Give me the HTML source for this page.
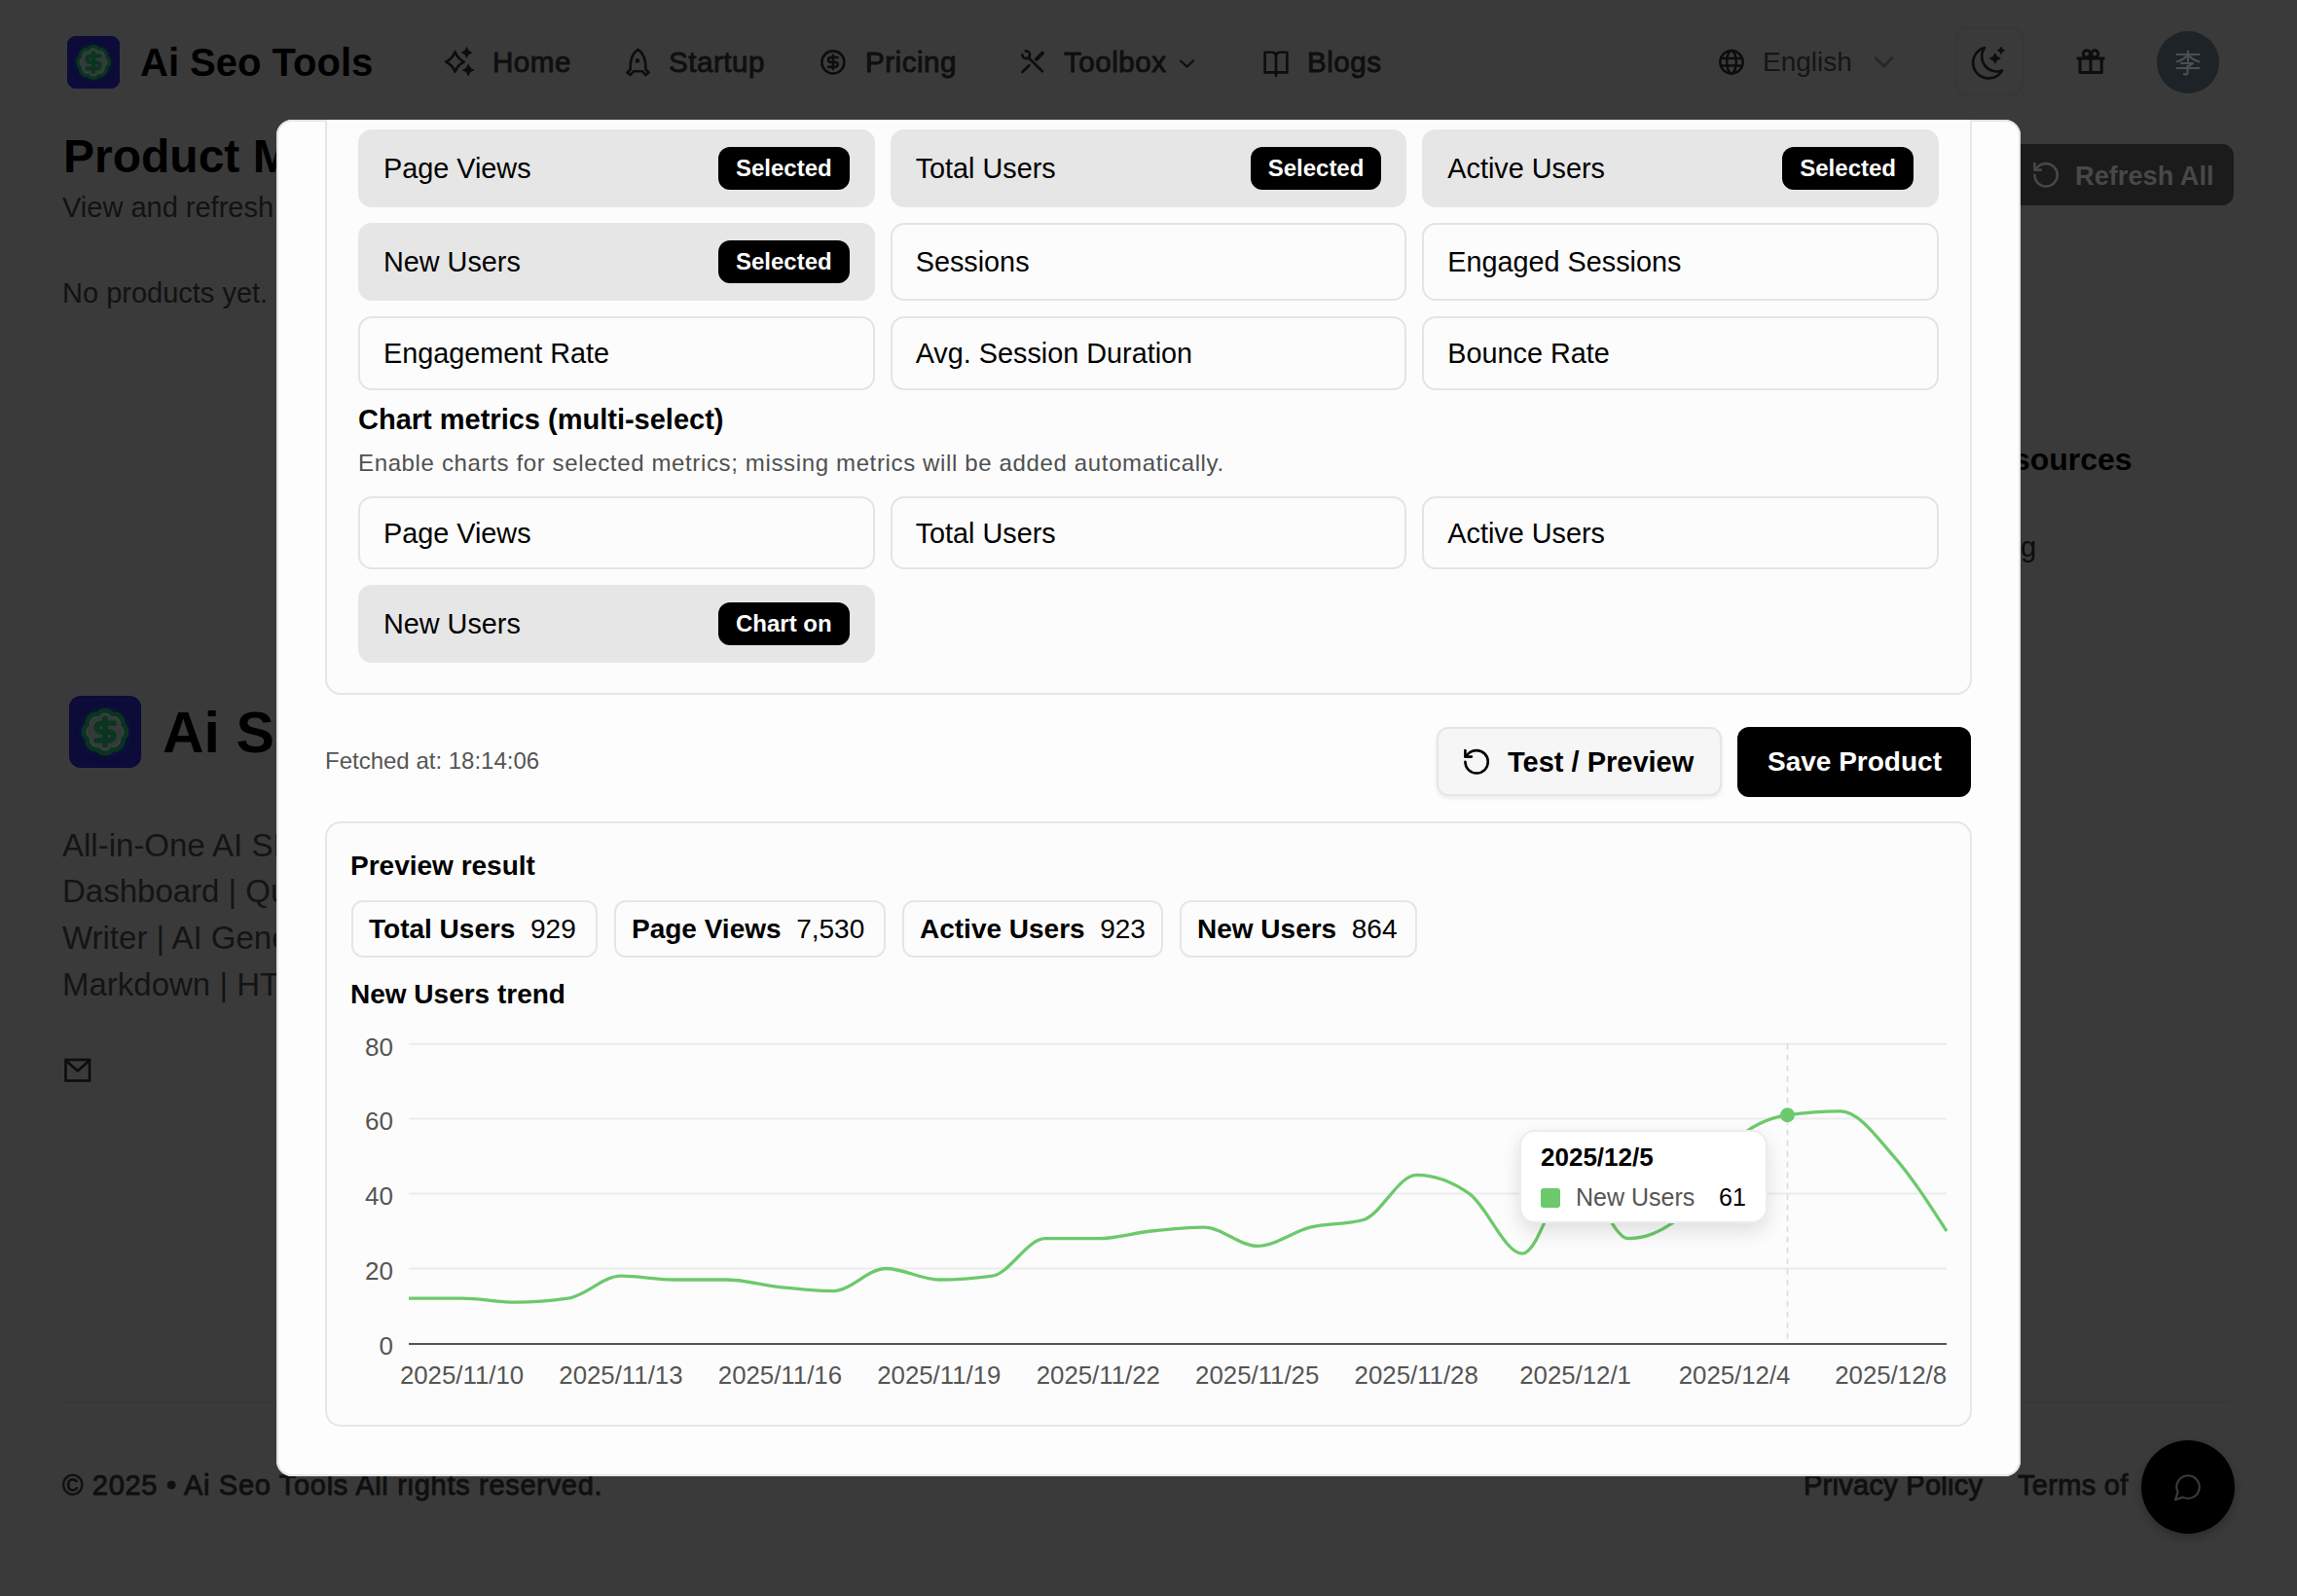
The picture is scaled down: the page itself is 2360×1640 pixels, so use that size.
<!DOCTYPE html>
<html><head><meta charset="utf-8">
<style>
*{box-sizing:border-box;margin:0;padding:0}
html,body{width:2360px;height:1640px;overflow:hidden}
body{background:#3a3a3a;font-family:"Liberation Sans",sans-serif;position:relative;color:#000}
.a{position:absolute;white-space:nowrap}
.nav{font-size:29.6px;color:#0f0f0f;line-height:1;font-weight:400;-webkit-text-stroke:0.9px #0f0f0f;letter-spacing:0.5px}
.ic{position:absolute}
/* modal */
#modal{position:absolute;left:284px;top:123px;width:1792px;height:1394px;background:#fdfdfd;border-radius:16px;overflow:hidden;box-shadow:inset 0 0 0 2px #e4e4e4}
.card{position:absolute;border:2px solid #e6e6e6;border-radius:16px;background:#fcfcfc}
.it{position:absolute;border:2px solid #e4e4e4;border-radius:14px;background:#fcfcfc;height:75px;width:531px}
.it.sel{background:#e6e6e6;border-color:#e6e6e6;height:80px}
.it .t{position:absolute;left:24px;top:50%;transform:translateY(-50%);font-size:28.8px;color:#000;line-height:1}
.badge{position:absolute;right:24px;top:16px;height:44px;background:#000;color:#fff;border-radius:12px;font-size:24px;font-weight:700;line-height:44px;padding:0 18px}
.chip{position:absolute;top:82px;height:59px;border:2px solid #e6e6e6;border-radius:12px;background:#fcfcfc;font-size:28px;line-height:55px;padding:0 16px;white-space:nowrap}
.chip b{font-weight:700}
.ylab{position:absolute;font-size:24px;color:#555;line-height:1;text-align:right;width:40px}
.xlab{position:absolute;font-size:24px;color:#555;line-height:1;white-space:nowrap}
.btn2{background:#f6f6f6;border:2px solid #e6e6e6;border-radius:12px;box-shadow:0 2px 4px rgba(0,0,0,0.08)}
.tip{background:#fff;border:2px solid #ececec;border-radius:16px;box-shadow:0 8px 20px rgba(0,0,0,0.12)}
@media (max-width:1300px){html{zoom:0.5}}
</style></head>
<body>
<!-- header -->
<div class="a" style="left:69px;top:37px;width:54px;height:54px;border-radius:9px;background:#0b0a33"></div>
<div class="a" style="left:144px;top:44px;font-size:40px;font-weight:700;line-height:40px">Ai Seo Tools</div>
<div class="a nav" style="left:506px;top:49px">Home</div>
<div class="a nav" style="left:687px;top:49px">Startup</div>
<div class="a nav" style="left:889px;top:49px">Pricing</div>
<div class="a nav" style="left:1093px;top:49px">Toolbox</div>
<div class="a nav" style="left:1343px;top:49px">Blogs</div>
<div class="a nav" style="left:1811px;top:50px;color:#151515;font-size:28px;-webkit-text-stroke:0;letter-spacing:0">English</div>
<div class="a" style="left:2009px;top:28px;width:70px;height:70px;border:2px solid #373737;border-radius:12px"></div><div class="a" style="left:2115px;top:28px;width:64px;height:70px;border:2px solid #393939;border-radius:12px"></div>
<div class="a" style="left:2216px;top:32px;width:64px;height:64px;border-radius:50%;background:#1d2326"></div>

<div class="a" style="left:65px;top:133px;font-size:48px;font-weight:700;line-height:56px">Product Management</div>
<div class="a" style="left:64px;top:197px;font-size:29px;line-height:32px;color:#121212">View and refresh product analytics</div>
<div class="a" style="left:64px;top:285px;font-size:29px;line-height:32px;color:#121212">No products yet.</div>
<div class="a" style="left:1900px;top:148px;width:395px;height:63px;border-radius:12px;background:#1b1b1b"></div>
<div class="a" style="left:2132px;top:165px;font-size:27.2px;font-weight:700;line-height:32px;color:#484848">Refresh All</div>
<div class="a" style="left:2027px;top:456px;font-size:32px;font-weight:700;line-height:32px">Resources</div>
<div class="a" style="left:2034px;top:548px;font-size:29px;line-height:29px;color:#0c0c0c">Blog</div>

<!-- footer -->
<div class="a" style="left:71px;top:715px;width:74px;height:74px;border-radius:12px;background:#0b0a33"></div>
<div class="a" style="left:167px;top:723px;font-size:59px;font-weight:700;line-height:60px">Ai Seo Tools</div>
<div class="a" style="left:64px;top:844.5px;font-size:33px;line-height:47.8px;color:#141414;white-space:normal;width:700px">All-in-One AI SEO Tools<br>Dashboard | Quick Writer<br>Writer | AI Generator<br>Markdown | HTML</div>
<div class="a" style="left:64px;top:1440px;width:2228px;height:2px;background:#373737"></div>
<div class="a" style="left:64px;top:1511.5px;font-size:29px;line-height:29px;color:#0f0f0f;-webkit-text-stroke:0.9px #0f0f0f;letter-spacing:0.7px">© 2025 • Ai Seo Tools All rights reserved.</div>
<div class="a" style="left:1853px;top:1511.5px;font-size:29px;line-height:29px;color:#0f0f0f;-webkit-text-stroke:0.9px #0f0f0f;letter-spacing:0.27px">Privacy Policy</div>
<div class="a" style="left:2073px;top:1511.5px;font-size:29px;line-height:29px;color:#0f0f0f;-webkit-text-stroke:0.9px #0f0f0f;letter-spacing:0.3px;width:118px;overflow:hidden">Terms of Service</div>
<div class="a" style="left:2200px;top:1480px;width:96px;height:96px;border-radius:50%;background:#000;box-shadow:0 4px 10px rgba(0,0,0,0.25)"></div>

<svg id="pgicons" class="a" style="left:0;top:0" width="2360" height="1640" viewBox="0 0 2360 1640">
<defs><filter id="blur54" x="-50%" y="-50%" width="200%" height="200%"><feGaussianBlur stdDeviation="3"/></filter><filter id="blur73" x="-50%" y="-50%" width="200%" height="200%"><feGaussianBlur stdDeviation="4"/></filter></defs>
<g>
<rect x="69" y="37" width="54" height="54" rx="9.0" fill="#0d0b3a"/>
<circle cx="96.0" cy="64.0" r="17.0" fill="#06301a" filter="url(#blur54)" opacity="0.6"/>
<g transform="translate(76.56,44.56) scale(1.62)">
<path d="M3.85 8.62a4 4 0 0 1 4.78-4.77 4 4 0 0 1 6.74 0 4 4 0 0 1 4.78 4.78 4 4 0 0 1 0 6.74 4 4 0 0 1-4.77 4.78 4 4 0 0 1-6.75 0 4 4 0 0 1-4.78-4.77 4 4 0 0 1 0-6.76Z" fill="#343a37" stroke="#0a3320" stroke-width="2.2"/>
<path d="M3.85 8.62a4 4 0 0 1 4.78-4.77 4 4 0 0 1 6.74 0 4 4 0 0 1 4.78 4.78 4 4 0 0 1 0 6.74 4 4 0 0 1-4.77 4.78 4 4 0 0 1-6.75 0 4 4 0 0 1-4.78-4.77 4 4 0 0 1 0-6.76Z" fill="none" stroke="#3e4a43" stroke-width="0.5" transform="translate(12 12) scale(0.86) translate(-12 -12)"/>
<path d="M16 8h-6a2 2 0 1 0 0 4h4a2 2 0 1 1 0 4H8" fill="none" stroke="#0a3520" stroke-width="2.6" stroke-linecap="round" stroke-linejoin="round"/>
<path d="M12 18V6" stroke="#0a3520" stroke-width="2.6" stroke-linecap="round"/>
</g></g>
<g>
<rect x="71.5" y="715.5" width="73" height="73" rx="12.166666666666666" fill="#0d0b3a"/>
<circle cx="108.0" cy="752.0" r="22.98148148148148" fill="#06301a" filter="url(#blur73)" opacity="0.6"/>
<g transform="translate(81.72,725.72) scale(2.19)">
<path d="M3.85 8.62a4 4 0 0 1 4.78-4.77 4 4 0 0 1 6.74 0 4 4 0 0 1 4.78 4.78 4 4 0 0 1 0 6.74 4 4 0 0 1-4.77 4.78 4 4 0 0 1-6.75 0 4 4 0 0 1-4.78-4.77 4 4 0 0 1 0-6.76Z" fill="#343a37" stroke="#0a3320" stroke-width="2.2"/>
<path d="M3.85 8.62a4 4 0 0 1 4.78-4.77 4 4 0 0 1 6.74 0 4 4 0 0 1 4.78 4.78 4 4 0 0 1 0 6.74 4 4 0 0 1-4.77 4.78 4 4 0 0 1-6.75 0 4 4 0 0 1-4.78-4.77 4 4 0 0 1 0-6.76Z" fill="none" stroke="#3e4a43" stroke-width="0.5" transform="translate(12 12) scale(0.86) translate(-12 -12)"/>
<path d="M16 8h-6a2 2 0 1 0 0 4h4a2 2 0 1 1 0 4H8" fill="none" stroke="#0a3520" stroke-width="2.6" stroke-linecap="round" stroke-linejoin="round"/>
<path d="M12 18V6" stroke="#0a3520" stroke-width="2.6" stroke-linecap="round"/>
</g></g>
<path d="M467.5,53.2 Q470.29,60.41 476.8,63.5 Q470.29,66.59 467.5,73.8 Q464.71,66.59 458.2,63.5 Q464.71,60.41 467.5,53.2 Z" fill="none" stroke="#0d0d0d" stroke-width="2.6" stroke-linecap="round" stroke-linejoin="round"/>
<path d="M479.5,48.8 Q480.5,52.96 484.5,54 Q480.5,55.04 479.5,59.2 Q478.5,55.04 474.5,54 Q478.5,52.96 479.5,48.8 Z" fill="#0d0d0d" stroke="#0d0d0d" stroke-width="1.2" stroke-linejoin="round"/>
<path d="M481.2,66.4 Q482.32,70.88 486.8,72 Q482.32,73.12 481.2,77.6 Q480.08,73.12 475.59999999999997,72 Q480.08,70.88 481.2,66.4 Z" fill="#0d0d0d" stroke="#0d0d0d" stroke-width="1.2" stroke-linejoin="round"/>
<path d="M655.5,50.8 C649.5,54.5 647.3,61.5 647.5,71.5 L644.5,74.5 L647.5,77 L651,73.3 L660,73.3 L663.5,77 L666.5,74.5 L663.5,71.5 C663.7,61.5 661.5,54.5 655.5,50.8 Z" fill="none" stroke="#0d0d0d" stroke-width="2.6" stroke-linecap="round" stroke-linejoin="round"/>
<circle cx="654.9" cy="62.4" r="2.3" fill="#0d0d0d"/>
<g transform="translate(841.5,49.5) scale(1.2)" fill="none" stroke="#0d0d0d" stroke-width="2.1" stroke-linecap="round" stroke-linejoin="round"><circle cx="12" cy="12" r="9.6"/><path d="M16 8h-6a2 2 0 1 0 0 4h4a2 2 0 1 1 0 4H8"/><path d="M12 18V6"/></g>
<path d="M1056.8,59.5 L1071,73.3" fill="none" stroke="#0d0d0d" stroke-width="2.6" stroke-linecap="round" stroke-linejoin="round"/>
<path d="M1053.7,52.4 A3.9,3.9 0 1 1 1050.3,56" fill="none" stroke="#0d0d0d" stroke-width="2.6" stroke-linecap="round" stroke-linejoin="round" stroke-width="2.8"/>
<path d="M1057.3,67.2 L1050.3,74" fill="none" stroke="#0d0d0d" stroke-width="2.6" stroke-linecap="round" stroke-linejoin="round"/>
<path d="M1064.8,60.8 L1071,54.6" fill="none" stroke="#0d0d0d" stroke-width="3.8" stroke-linecap="round"/>
<path d="M1213,62.5 L1219.5,68.5 L1226,62.5" fill="none" stroke="#0d0d0d" stroke-width="2.2" stroke-linecap="round" stroke-linejoin="round"/>
<path d="M1311,58.5 C1311,55.5 1309.5,53.7 1307,53.7 H1299.6 V74.4 H1322.4 V53.7 H1315 C1312.5,53.7 1311,55.5 1311,58.5 V78" fill="none" stroke="#0d0d0d" stroke-width="2.6" stroke-linecap="round" stroke-linejoin="round" stroke-linecap="butt" stroke-linejoin="miter"/>
<g fill="none" stroke="#0d0d0d" stroke-width="2.5"><circle cx="1779" cy="63.8" r="11.7"/><ellipse cx="1779" cy="63.8" rx="4.8" ry="11.7"/><path d="M1768,60 H1790 M1768,67.6 H1790"/></g>
<path d="M1927,59.5 L1935.5,68 L1944,59.5" fill="none" stroke="#262626" stroke-width="2.5" stroke-linecap="round" stroke-linejoin="round"/>
<path d="M2039,49 A15.5,15.5 0 0 0 2057,72.5 A16,16 0 1 1 2039,49 Z" fill="none" stroke="#0d0d0d" stroke-width="2.6" stroke-linecap="round" stroke-linejoin="round" stroke-width="2.8"/>
<path d="M2049.8,54.8 Q2050.9,58.96 2055.3,60 Q2050.9,61.04 2049.8,65.2 Q2048.7000000000003,61.04 2044.3000000000002,60 Q2048.7000000000003,58.96 2049.8,54.8 Z" fill="#0d0d0d" stroke="#0d0d0d" stroke-width="1" stroke-linejoin="round"/>
<path d="M2056,48.199999999999996 Q2056.72,51.08 2059.6,51.8 Q2056.72,52.519999999999996 2056,55.4 Q2055.28,52.519999999999996 2052.4,51.8 Q2055.28,51.08 2056,48.199999999999996 Z" fill="#0d0d0d" stroke="#0d0d0d" stroke-width="1" stroke-linejoin="round"/>
<g fill="none" stroke="#0d0d0d" stroke-width="3" stroke-linejoin="round"><circle cx="2143.9" cy="55.3" r="3.6"/><circle cx="2152.2" cy="55.3" r="3.6"/><path d="M2133.5,60 H2162.5"/><path d="M2137,60 V74.5 H2159.3 V60"/><path d="M2148,60 V74.5"/></g>
<g fill="none" stroke="#4a5052" stroke-width="2.2" stroke-linecap="round" stroke-linejoin="round"><path d="M2236.5,56 H2259.5"/><path d="M2248,52.5 V63"/><path d="M2247.5,57 C2244,60.5 2240,62.5 2236.5,63.5"/><path d="M2248.5,57 C2252,60.5 2256,62.5 2259.5,63.5"/><path d="M2241,65 H2253 L2247.5,68.5"/><path d="M2236.5,70 H2259.5"/><path d="M2247.5,68 V75.5 C2247.5,76.5 2246,76.8 2244,76"/></g>
<g transform="translate(2086.5,164.2) scale(1.3)" fill="none" stroke="#474747" stroke-width="2" stroke-linecap="round" stroke-linejoin="round">
<path d="M3 12a9 9 0 1 0 9-9 9.75 9.75 0 0 0-6.74 2.74L3 8"/><path d="M3 3v5h5"/></g>
<g fill="none" stroke="#0d0d0d" stroke-width="2.6" stroke-linejoin="miter"><rect x="67.5" y="1089" width="24.5" height="21.5"/><path d="M67.5,1089.5 L79.75,1100.5 L92,1089.5"/></g>
<g transform="translate(2232.4,1512.4) scale(1.3)" fill="none" stroke="#3c3c3c" stroke-width="1.6" stroke-linecap="round" stroke-linejoin="round"><path d="M7.9 20A9 9 0 1 0 4 16.1L2 22Z"/></g>
</svg>
<!-- modal -->
<div id="modal">
<div class="card" style="left:50px;top:-500px;width:1692px;height:1091px"></div>
<div class="it sel" style="left:84.0px;top:10px;height:80px;width:530.7px"><span class="t">Page Views</span><span class="badge">Selected</span></div>
<div class="it sel" style="left:630.7px;top:10px;height:80px;width:530.7px"><span class="t">Total Users</span><span class="badge">Selected</span></div>
<div class="it sel" style="left:1177.3px;top:10px;height:80px;width:530.7px"><span class="t">Active Users</span><span class="badge">Selected</span></div>
<div class="it sel" style="left:84.0px;top:106px;height:80px;width:530.7px"><span class="t">New Users</span><span class="badge">Selected</span></div>
<div class="it" style="left:630.7px;top:106px;height:80px;width:530.7px"><span class="t">Sessions</span></div>
<div class="it" style="left:1177.3px;top:106px;height:80px;width:530.7px"><span class="t">Engaged Sessions</span></div>
<div class="it" style="left:84.0px;top:202px;height:76px;width:530.7px"><span class="t">Engagement Rate</span></div>
<div class="it" style="left:630.7px;top:202px;height:76px;width:530.7px"><span class="t">Avg. Session Duration</span></div>
<div class="it" style="left:1177.3px;top:202px;height:76px;width:530.7px"><span class="t">Bounce Rate</span></div>
<div class="a" style="left:84px;top:293px;font-size:29px;font-weight:700;line-height:30px">Chart metrics (multi-select)</div>
<div class="a" style="left:84px;top:341.3px;font-size:24px;line-height:24px;letter-spacing:0.64px;color:#505050">Enable charts for selected metrics; missing metrics will be added automatically.</div>
<div class="it" style="left:84.0px;top:387px;height:75px;width:530.7px"><span class="t">Page Views</span></div>
<div class="it" style="left:630.7px;top:387px;height:75px;width:530.7px"><span class="t">Total Users</span></div>
<div class="it" style="left:1177.3px;top:387px;height:75px;width:530.7px"><span class="t">Active Users</span></div>
<div class="it sel" style="left:84px;top:478px;height:80px;width:530.7px"><span class="t">New Users</span><span class="badge">Chart on</span></div>
<div class="a" style="left:50px;top:647px;font-size:24px;line-height:24px;color:#555">Fetched at: 18:14:06</div>
<div class="a btn2" style="left:1192px;top:624px;width:293px;height:71px"></div>
<div class="a" style="left:1265px;top:645px;font-size:29px;font-weight:700;line-height:30px">Test / Preview</div>
<div class="a" style="left:1501px;top:624px;width:240px;height:72px;background:#000;border-radius:12px"></div>
<div class="a" style="left:1532px;top:645px;font-size:28px;font-weight:700;line-height:30px;color:#fff">Save Product</div>
<div class="card" style="left:50px;top:721px;width:1692px;height:622px"></div>
<div class="a" style="left:76px;top:753px;font-size:28px;font-weight:700;line-height:28px">Preview result</div>
<div class="chip" style="left:77px;top:802px;width:253px"><b>Total Users</b>&nbsp; 929</div>
<div class="chip" style="left:347px;top:802px;width:279px"><b>Page Views</b>&nbsp; 7,530</div>
<div class="chip" style="left:643px;top:802px;width:268px"><b>Active Users</b>&nbsp; 923</div>
<div class="chip" style="left:928px;top:802px;width:244px"><b>New Users</b>&nbsp; 864</div>
<div class="a" style="left:76px;top:885px;font-size:28px;font-weight:700;line-height:28px">New Users trend</div>
<svg class="a" style="left:0;top:0" width="1792" height="1393" viewBox="284 123 1792 1393">
<g transform="translate(1501.5,767.2) scale(1.3)" fill="none" stroke="#000" stroke-width="2" stroke-linecap="round" stroke-linejoin="round">
<path d="M3 12a9 9 0 1 0 9-9 9.75 9.75 0 0 0-6.74 2.74L3 8"/><path d="M3 3v5h5"/></g>
<line x1="420" x2="2000" y1="1072.7" y2="1072.7" stroke="#ececec" stroke-width="2"/>
<line x1="420" x2="2000" y1="1149.6" y2="1149.6" stroke="#ececec" stroke-width="2"/>
<line x1="420" x2="2000" y1="1226.6" y2="1226.6" stroke="#ececec" stroke-width="2"/>
<line x1="420" x2="2000" y1="1303.5" y2="1303.5" stroke="#ececec" stroke-width="2"/>
<line x1="1836.5" x2="1836.5" y1="1072.7" y2="1380.4" stroke="#dadada" stroke-width="1.6" stroke-dasharray="6 5"/>
<line x1="420" x2="2000" y1="1381.0" y2="1381.0" stroke="#555" stroke-width="2.2"/>
<path d="M420.0,1334.2 C438.2,1334.2 456.3,1334.2 474.5,1334.2 C492.6,1334.2 510.8,1338.1 529.0,1338.1 C547.1,1338.1 565.3,1336.8 583.4,1334.2 C601.6,1331.7 619.8,1311.2 637.9,1311.2 C656.1,1311.2 674.3,1315.0 692.4,1315.0 C710.6,1315.0 728.7,1315.0 746.9,1315.0 C765.1,1315.0 783.2,1320.8 801.4,1322.7 C819.5,1324.6 837.7,1326.6 855.9,1326.6 C874.0,1326.6 892.2,1303.5 910.3,1303.5 C928.5,1303.5 946.7,1315.0 964.8,1315.0 C983.0,1315.0 1001.1,1313.7 1019.3,1311.2 C1037.5,1308.6 1055.6,1272.7 1073.8,1272.7 C1092.0,1272.7 1110.1,1272.7 1128.3,1272.7 C1146.4,1272.7 1164.6,1266.9 1182.8,1265.0 C1200.9,1263.1 1219.1,1261.2 1237.2,1261.2 C1255.4,1261.2 1273.6,1280.4 1291.7,1280.4 C1309.9,1280.4 1328.0,1265.7 1346.2,1261.2 C1364.4,1256.7 1382.5,1258.6 1400.7,1253.5 C1418.9,1248.3 1437.0,1207.3 1455.2,1207.3 C1473.3,1207.3 1491.5,1213.7 1509.7,1226.6 C1527.8,1239.4 1546.0,1288.1 1564.1,1288.1 C1582.3,1288.1 1600.5,1203.5 1618.6,1203.5 C1636.8,1203.5 1654.9,1272.7 1673.1,1272.7 C1691.3,1272.7 1709.4,1265.0 1727.6,1249.6 C1745.7,1234.2 1763.9,1190.0 1782.1,1172.7 C1800.2,1155.4 1818.4,1148.3 1836.6,1145.8 C1854.7,1143.2 1872.9,1141.9 1891.0,1141.9 C1909.2,1141.9 1927.4,1167.6 1945.5,1188.1 C1963.7,1208.6 1981.8,1236.8 2000.0,1265.0" fill="none" stroke="#6cc96c" stroke-width="3.3"/>
<circle cx="1836.5" cy="1145.8" r="7.5" fill="#6cc96c"/>
<text x="404" y="1084.5" text-anchor="end" font-size="26" fill="#555" font-family="Liberation Sans">80</text>
<text x="404" y="1161.4" text-anchor="end" font-size="26" fill="#555" font-family="Liberation Sans">60</text>
<text x="404" y="1238.4" text-anchor="end" font-size="26" fill="#555" font-family="Liberation Sans">40</text>
<text x="404" y="1315.3" text-anchor="end" font-size="26" fill="#555" font-family="Liberation Sans">20</text>
<text x="404" y="1392.2" text-anchor="end" font-size="26" fill="#555" font-family="Liberation Sans">0</text>
<text x="474.5" y="1422.3" text-anchor="middle" font-size="25.8" fill="#555" font-family="Liberation Sans">2025/11/10</text>
<text x="637.9" y="1422.3" text-anchor="middle" font-size="25.8" fill="#555" font-family="Liberation Sans">2025/11/13</text>
<text x="801.4" y="1422.3" text-anchor="middle" font-size="25.8" fill="#555" font-family="Liberation Sans">2025/11/16</text>
<text x="964.8" y="1422.3" text-anchor="middle" font-size="25.8" fill="#555" font-family="Liberation Sans">2025/11/19</text>
<text x="1128.3" y="1422.3" text-anchor="middle" font-size="25.8" fill="#555" font-family="Liberation Sans">2025/11/22</text>
<text x="1291.7" y="1422.3" text-anchor="middle" font-size="25.8" fill="#555" font-family="Liberation Sans">2025/11/25</text>
<text x="1455.2" y="1422.3" text-anchor="middle" font-size="25.8" fill="#555" font-family="Liberation Sans">2025/11/28</text>
<text x="1618.6" y="1422.3" text-anchor="middle" font-size="25.8" fill="#555" font-family="Liberation Sans">2025/12/1</text>
<text x="1782.1" y="1422.3" text-anchor="middle" font-size="25.8" fill="#555" font-family="Liberation Sans">2025/12/4</text>
<text x="2000" y="1422.3" text-anchor="end" font-size="25.8" fill="#555" font-family="Liberation Sans">2025/12/8</text>
</svg>
<div class="a tip" style="left:1277px;top:1038px;width:255px;height:96px"></div>
<div class="a" style="left:1299px;top:1053px;font-size:26px;font-weight:700;line-height:26px">2025/12/5</div>
<div class="a" style="left:1299px;top:1098px;width:20px;height:20px;border-radius:3px;background:#6cc96c"></div>
<div class="a" style="left:1335px;top:1094px;font-size:25px;line-height:26px;color:#555">New Users</div>
<div class="a" style="left:1482px;top:1094px;font-size:25px;line-height:26px;color:#000">61</div>
</div>
</body></html>
